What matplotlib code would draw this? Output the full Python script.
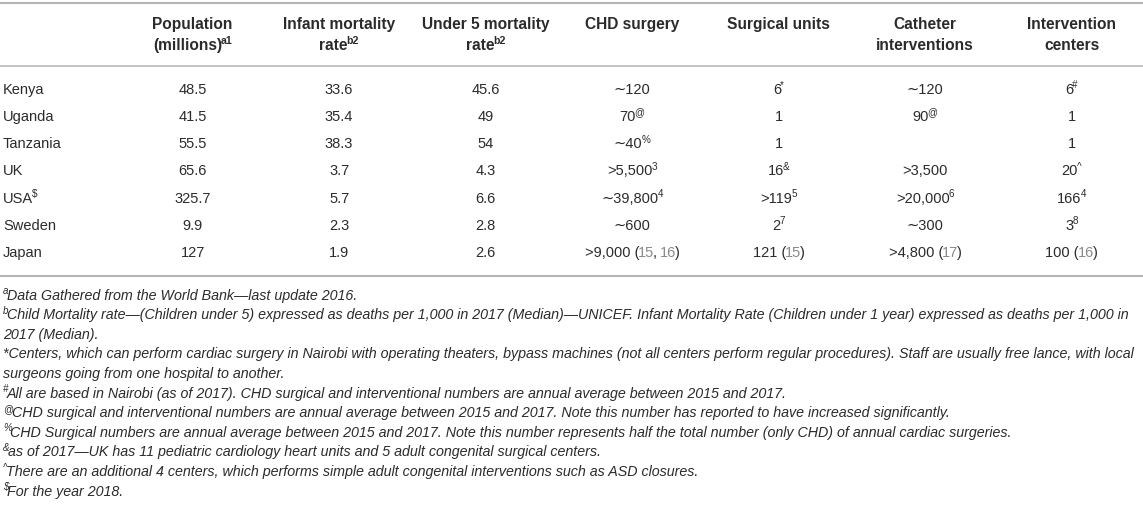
"""Table: CHD care capacity in East Africa vs. high income countries"""

import matplotlib
matplotlib.use("Agg")
import matplotlib.pyplot as plt

# table content
countries = ["Kenya", "Uganda", "Tanzania", "UK", "USA", "Sweden", "Japan"]
country_sup = ["", "", "", "", "$", "", ""]

headers = ["Population", "Infant mortality", "Under 5 mortality", "CHD surgery",
           "Surgical units", "Catheter", "Intervention"]
headers2 = [
    ("(millions)", "a1"),
    ("rate", "b2"),
    ("rate", "b2"),
    ("", ""),
    ("", ""),
    ("interventions", ""),
    ("centers", ""),
]

population = ["48.5", "41.5", "55.5", "65.6", "325.7", "9.9", "127"]
infant_mortality = ["33.6", "35.4", "38.3", "3.7", "5.7", "2.3", "1.9"]
under5_mortality = ["45.6", "49", "54", "4.3", "6.6", "2.8", "2.6"]

# (value, superscript, references)
chd_surgery = [("\u223c120", "", []), ("70", "@", []), ("\u223c40", "%", []),
               (">5,500", "3", []), ("\u223c39,800", "4", []), ("\u223c600", "", []),
               (">9,000", "", ["15", "16"])]
surgical_units = [("6", "*", []), ("1", "", []), ("1", "", []), ("16", "&", []),
                  (">119", "5", []), ("2", "7", []), ("121", "", ["15"])]
catheter = [("\u223c120", "", []), ("90", "@", []), ("", "", []), (">3,500", "", []),
            (">20,000", "6", []), ("\u223c300", "", []), (">4,800", "", ["17"])]
intervention = [("6", "#", []), ("1", "", []), ("1", "", []), ("20", "^", []),
                ("166", "4", []), ("3", "8", []), ("100", "", ["16"])]

footnotes = [
    ("a", "Data Gathered from the World Bank\u2014last update 2016."),
    ("b", "Child Mortality rate\u2014(Children under 5) expressed as deaths per 1,000 in 2017 "
          "(Median)\u2014UNICEF. Infant Mortality Rate (Children under 1 year) expressed as deaths per 1,000 in"),
    ("", "2017 (Median)."),
    ("", "*Centers, which can perform cardiac surgery in Nairobi with operating theaters, bypass machines "
         "(not all centers perform regular procedures). Staff are usually free lance, with local"),
    ("", "surgeons going from one hospital to another."),
    ("#", "All are based in Nairobi (as of 2017). CHD surgical and interventional numbers are annual "
          "average between 2015 and 2017."),
    ("@", "CHD surgical and interventional numbers are annual average between 2015 and 2017. "
          "Note this number has reported to have increased significantly."),
    ("%", "CHD Surgical numbers are annual average between 2015 and 2017. Note this number represents "
          "half the total number (only CHD) of annual cardiac surgeries."),
    ("&", "as of 2017\u2014UK has 11 pediatric cardiology heart units and 5 adult congenital surgical centers."),
    ("^", "There are an additional 4 centers, which performs simple adult congenital interventions "
          "such as ASD closures."),
    ("$", "For the year 2018."),
]

# styling
W, H = 1143, 505
FONT = ["Liberation Sans", "DejaVu Sans"]
TEXT = "#2b2b2b"
REF = "#8a8a8a"
RULE = "#b4b4b4"
SIZE = 10.5
HEAD_SIZE = 11.2
FOOT_SIZE = 10.3
TIGHT = 1.2  # px removed between runs

fig = plt.figure(figsize=(W / 100, H / 100), dpi=100)
ax = fig.add_axes([0, 0, 1, 1])
ax.set_xlim(0, W)
ax.set_ylim(H, 0)
ax.axis("off")
renderer = fig.canvas.get_renderer()


def px(pt):
    return pt * 100 / 72


def draw_runs(x, y, pieces, ha="center", size=SIZE, weight="normal", style="normal"):
    """draw a list of (text, kind) runs on a shared baseline; kind: n, sup, ref, gap"""
    objs = []
    for txt, kind in pieces:
        if kind == "gap":
            objs.append(None)
            continue
        s = size * 0.68 if kind == "sup" else size
        c = REF if kind == "ref" else TEXT
        dy = -px(size) * 0.38 if kind == "sup" else 0
        t = ax.text(0, y + dy, txt, fontsize=s, color=c, weight=weight, style=style,
                    family=FONT, va="baseline", ha="left")
        objs.append(t)
    widths = []
    for t in objs:
        if t is None:
            widths.append(px(size) * 0.278)
        else:
            widths.append(t.get_window_extent(renderer).width - TIGHT if t.get_text() else 0)
    total = sum(widths)
    x0 = x - total / 2 if ha == "center" else x
    for t, w in zip(objs, widths):
        if t is not None:
            t.set_x(x0)
        x0 += w


def cell_pieces(value, sup="", refs=None):
    pieces = [(value, "n")]
    if sup:
        pieces.append((sup, "sup"))
    if refs:
        pieces[0] = (value + " (", "n")
        for i, r in enumerate(refs):
            if i:
                pieces.append((",", "n"))
                pieces.append(("", "gap"))
            pieces.append((r, "ref"))
        pieces.append((")", "n"))
    return pieces


# layout
col_x = [192 + 146.5 * i for i in range(7)]
left_x = 3
base_off = px(SIZE) * 0.36
head_off = px(HEAD_SIZE) * 0.36
row_y = [88.5 + 27.2 * i for i in range(len(countries))]

ax.plot([0, W], [3, 3], color=RULE, lw=1.5, solid_capstyle="butt")
ax.plot([0, W], [66, 66], color=RULE, lw=1.1, solid_capstyle="butt")
ax.plot([0, W], [276, 276], color=RULE, lw=1.5, solid_capstyle="butt")

# header
for i, head in enumerate(headers):
    draw_runs(col_x[i], 23 + head_off, [(head, "n")], size=HEAD_SIZE, weight="bold")
    text2, sup2 = headers2[i]
    if text2:
        p2 = [(text2, "n")] + ([(sup2, "sup")] if sup2 else [])
        draw_runs(col_x[i], 44.5 + head_off, p2, size=HEAD_SIZE, weight="bold")

# body
numeric_cols = [population, infant_mortality, under5_mortality]
object_cols = [chd_surgery, surgical_units, catheter, intervention]
for r, name in enumerate(countries):
    y = row_y[r] + base_off
    p = [(name, "n")] + ([(country_sup[r], "sup")] if country_sup[r] else [])
    draw_runs(left_x, y, p, ha="left")
    for c, col in enumerate(numeric_cols):
        draw_runs(col_x[c], y, [(col[r], "n")])
    for c, col in enumerate(object_cols):
        value, sup, refs = col[r]
        if value:
            draw_runs(col_x[c + 3], y, cell_pieces(value, sup, refs))

# footnotes
foot_off = px(FOOT_SIZE) * 0.36
for i, (mark, txt) in enumerate(footnotes):
    y = 294.5 + 19.6 * i + foot_off
    p = ([(mark, "sup")] if mark else []) + [(txt, "n")]
    draw_runs(left_x, y, p, ha="left", size=FOOT_SIZE, style="italic")

fig.savefig("out.png", dpi=100)
